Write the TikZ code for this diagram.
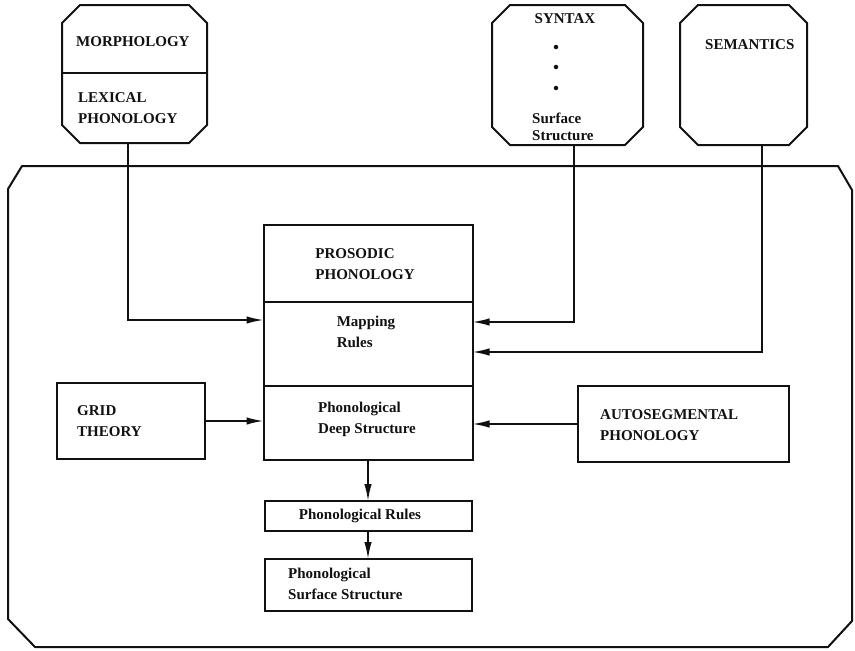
\documentclass[tikz,border=0pt]{standalone}
\usepackage{fontspec}
\setmainfont{Liberation Serif}
\usepackage{xcolor}
\usepackage{tikz}
\usetikzlibrary{calc,arrows.meta,positioning}
\definecolor{ink}{HTML}{111111}
\tikzset{
  frame/.style={draw=ink, line width=2pt, line join=round},
  box/.style={draw=ink, line width=2pt, rectangle, inner sep=0pt, outer sep=0pt},
  hull/.style={rectangle, inner sep=0pt, outer sep=0pt},
  link/.style={draw=ink, line width=1.7pt},
  arr/.style={link, -{Latex[length=17pt,width=7.5pt]}},
  lab/.style={text=ink, font=\bfseries\fontsize{15}{21}\selectfont, align=left, inner sep=0pt},
  labt/.style={lab, font=\bfseries\fontsize{15}{16.5}\selectfont},
  dotc/.style={circle, fill=ink, inner sep=1.6pt},
}

\begin{document}
\begin{tikzpicture}[x=1pt,y=-1pt]
  \useasboundingbox (0,0) rectangle (855,651);
  % outer frame of the phonological component
  \draw[frame] (22,166) -- (838,166) -- (852,190) -- (852,621) -- (828,647) -- (35,647) -- (8,619) -- (8,189) -- cycle;

  % modules above the frame
  \node[hull, minimum width=145pt, minimum height=138pt] (morph) at (134.5,74) {};
  \node[hull, minimum width=151pt, minimum height=140pt] (syn) at (567.5,75) {};
  \node[hull, minimum width=127pt, minimum height=140pt] (sem) at (743.5,75) {};
  \foreach \n in {morph,syn,sem}
    \draw[frame] ([yshift=-18pt]\n.north west) -- ([xshift=18pt]\n.north west) -- ([xshift=-18pt]\n.north east) -- ([yshift=-18pt]\n.north east)
      -- ([yshift=18pt]\n.south east) -- ([xshift=-18pt]\n.south east) -- ([xshift=18pt]\n.south west) -- ([yshift=18pt]\n.south west) -- cycle;
  \draw[frame] (morph.west |- 0,73) -- (morph.east |- 0,73);
  \node[lab, anchor=west] (morphT) at (76,42) {MORPHOLOGY};
  \node[lab, anchor=west] (lexT) at (78,108.5) {LEXICAL\\PHONOLOGY};
  \node[lab] (synT) at (565,19) {SYNTAX};
  \foreach \yy [count=\i] in {47,67,88} \node[dotc] (dot\i) at (556,\yy) {};
  \node[labt, anchor=west] (surfT) at (532,127) {Surface\\Structure};
  \node[lab, anchor=west] (semT) at (705,45) {SEMANTICS};

  % prosodic column
  \node[box, minimum width=209pt, minimum height=77pt] (pros) at (368,263.5) {};
  \node[box, minimum width=209pt, minimum height=84pt, below=0pt of pros] (map) {};
  \node[box, minimum width=209pt, minimum height=74pt, below=0pt of map] (deep) {};
  \node[lab] (prosT) at (365,264) {PROSODIC\\PHONOLOGY};
  \node[lab] (mapT) at (366,332) {Mapping\\Rules};
  \node[lab] (deepT) at (367,419) {Phonological\\Deep Structure};
  \node[box, minimum width=207pt, minimum height=30pt] (rules) at (368,516) {};
  \node[lab] (rulesT) at (360,516) {Phonological Rules};
  \node[box, minimum width=207pt, minimum height=52pt] (surf) at (368,585) {};
  \node[lab, anchor=west] (surfT2) at (288,584) {Phonological\\Surface Structure};

  % side modules
  \node[box, minimum width=148pt, minimum height=76pt] (grid) at (131,421) {};
  \node[lab, anchor=west] (gridT) at (77,421) {GRID\\THEORY};
  \node[box, minimum width=211pt, minimum height=76pt] (auto) at (683.5,424) {};
  \node[lab, anchor=west] (autoT) at (600,425.5) {AUTOSEGMENTAL\\PHONOLOGY};

  \draw[arr] ([xshift=-6.5pt]morph.south) |- (map.west |- 0,320);
  \draw[arr] ([xshift=6.5pt]syn.south) |- (map.east |- 0,322);
  \draw[arr] ([xshift=18.5pt]sem.south) |- (map.east |- 0,352);
  \draw[arr] (grid.east) -- (deep.west |- grid.east);
  \draw[arr] (auto.west) -- (deep.east |- auto.west);
  \draw[arr] (deep.south) -- (rules.north);
  \draw[arr] (rules.south) -- (surf.north);
\end{tikzpicture}
\end{document}
